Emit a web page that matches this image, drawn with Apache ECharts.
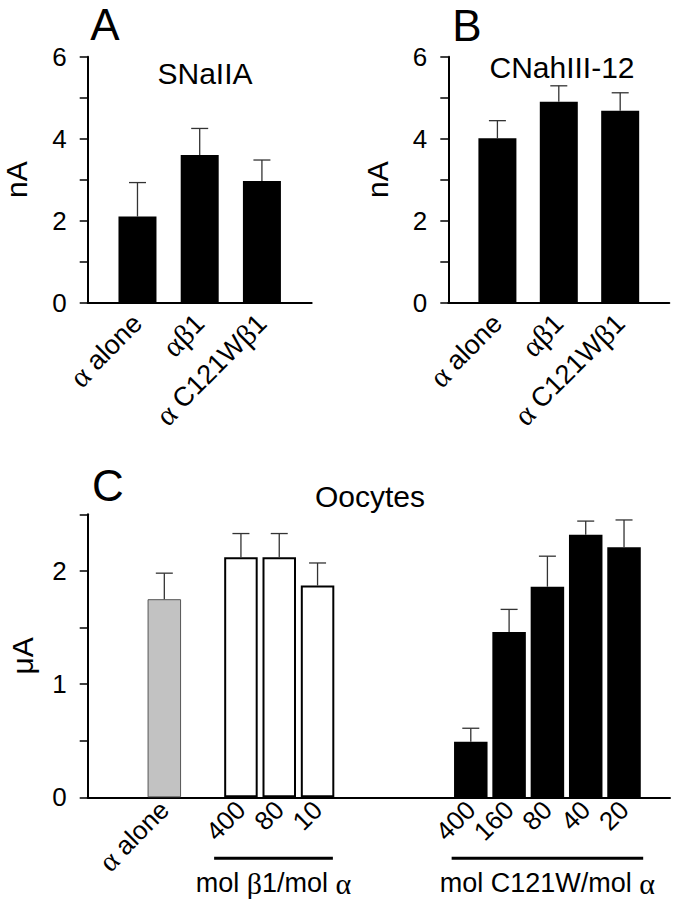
<!DOCTYPE html>
<html>
<head>
<meta charset="utf-8">
<script src="https://cdn.jsdelivr.net/npm/echarts@6/dist/echarts.min.js"></script>
<style>
  html, body { margin: 0; padding: 0; background: #fff; }
  #main { width: 678px; height: 899px; }
</style>
</head>
<body>
<div id="main"></div>
<script>
// panel A - SNaIIA
const catA = ['α alone', 'αβ1', 'α C121Wβ1'];
const meanA = [2.10, 3.60, 2.97];
const semA = [0.83, 0.65, 0.51];

// panel B - CNahIII-12
const catB = ['α alone', 'αβ1', 'α C121Wβ1'];
const meanB = [4.01, 4.90, 4.68];
const semB = [0.43, 0.39, 0.44];

// panel C - oocytes
const catC = ['α alone', '400', '80', '10', '400', '160', '80', '40', '20'];
const groupC = ['alone', 'beta', 'beta', 'beta', 'mut', 'mut', 'mut', 'mut', 'mut'];
const meanC = [1.75, 2.12, 2.12, 1.87, 0.49, 1.46, 1.86, 2.32, 2.21];
const semC = [0.23, 0.21, 0.21, 0.20, 0.12, 0.20, 0.27, 0.12, 0.24];
const groupLabelsC = ['mol β1/mol α', 'mol C121W/mol α'];

// where the bars sit on the (hidden) x scale
const slotAB = [0.8, 1.8, 2.8];
const slotC = [2, 4, 5, 6, 10, 11, 12, 13, 14];
const bracketC = [[3.3, 6.4], [9.5, 14.5]];

const FONT = 'Liberation Sans, Arial, sans-serif';
const SERIF = 'Liberation Serif, Times New Roman, serif';

const barStyleC = {
  alone: { color: '#c2c2c2', borderColor: '#555', borderWidth: 1 },
  beta: { color: '#fff', borderColor: '#000', borderWidth: 2 },
  mut: { color: '#000' }
};

// greek letters in symbol-like serif
function greek (s) {
  return s.replace(/([αβ])/g, '{g|$1}');
}

function labelFor (slots, cats) {
  return function (v) {
    for (let i = 0; i < slots.length; i++) {
      if (Math.abs(slots[i] - v) < 1e-6) return greek(cats[i]);
    }
    return '';
  };
}

function xAxisOf (gridIndex, max, interval, slots, cats, size, margin) {
  return {
    type: 'value',
    gridIndex: gridIndex,
    min: 0,
    max: max,
    interval: interval,
    splitLine: { show: false },
    axisTick: { show: false },
    axisLine: { lineStyle: { color: '#000', width: 2 } },
    axisLabel: {
      rotate: 45,
      margin: margin,
      color: '#000',
      fontFamily: FONT,
      fontSize: size,
      formatter: labelFor(slots, cats),
      rich: { g: { fontFamily: SERIF, fontSize: size + 3, color: '#000' } }
    }
  };
}

function yAxisOf (gridIndex, max, interval, name, labelStep, nameGap) {
  return {
    type: 'value',
    gridIndex: gridIndex,
    min: 0,
    max: max,
    interval: interval,
    name: name,
    nameLocation: 'middle',
    nameGap: nameGap,
    nameTextStyle: { color: '#000', fontFamily: FONT, fontSize: 30 },
    splitLine: { show: false },
    axisLine: { lineStyle: { color: '#000', width: 2 } },
    axisTick: { length: 8, lineStyle: { color: '#000', width: 1.5 } },
    axisLabel: {
      margin: 21,
      color: '#000',
      fontFamily: FONT,
      fontSize: 26,
      formatter: function (v) {
        const k = Math.round(v / labelStep * 1000) / 1000;
        return Number.isInteger(k) ? String(Math.round(v)) : '';
      }
    }
  };
}

function errorSeries (idx, slots, mean, sem) {
  return {
    type: 'custom',
    xAxisIndex: idx,
    yAxisIndex: idx,
    z: 5,
    encode: { x: 0, y: [1, 2] },
    data: slots.map((s, i) => [s, mean[i], mean[i] + sem[i]]),
    renderItem: function (params, api) {
      const p0 = api.coord([api.value(0), api.value(1)]);
      const p1 = api.coord([api.value(0), api.value(2)]);
      const st = { stroke: '#333', lineWidth: 1.3 };
      return {
        type: 'group',
        children: [
          { type: 'line', shape: { x1: p0[0], y1: p0[1], x2: p1[0], y2: p1[1] }, style: st },
          { type: 'line', shape: { x1: p1[0] - 8.5, y1: p1[1], x2: p1[0] + 8.5, y2: p1[1] }, style: st }
        ]
      };
    }
  };
}

function titleText (text, x, y, size, valign) {
  return {
    type: 'text',
    x: x,
    y: y,
    style: {
      text: text,
      fill: '#000',
      font: size + 'px ' + FONT,
      textAlign: 'center',
      textVerticalAlign: valign || 'middle'
    }
  };
}

let myChart = echarts.init(document.getElementById('main'), null, { renderer: 'svg' });

myChart.setOption({
  animation: false,
  backgroundColor: '#fff',
  grid: [
    { left: 87.7, top: 56.7, width: 224, height: 246, outerBoundsMode: 'none' },
    { left: 448.3, top: 56.7, width: 221, height: 246, outerBoundsMode: 'none' },
    { left: 87.7, top: 514.3, width: 582.3, height: 283, outerBoundsMode: 'none' }
  ],
  xAxis: [
    xAxisOf(0, 3.6, 0.2, slotAB, catA, 27, 16),
    xAxisOf(1, 3.6, 0.2, slotAB, catB, 27, 16),
    xAxisOf(2, 15.2, 1, slotC, catC, 26, 8)
  ],
  yAxis: [
    yAxisOf(0, 6, 1, 'nA', 2, 56),
    yAxisOf(1, 6, 1, 'nA', 2, 56),
    yAxisOf(2, 2.5, 0.5, 'μA', 1, 50)
  ],
  graphic: [
    titleText('A', 105, 2, 44, 'top'),
    titleText('B', 467, 3, 44, 'top'),
    titleText('C', 108, 463, 44, 'top'),
    titleText('SNaIIA', 205, 73, 30),
    titleText('CNahIII-12', 562, 67, 30),
    titleText('Oocytes', 370, 496, 30)
  ],
  series: [
    {
      type: 'bar',
      xAxisIndex: 0,
      yAxisIndex: 0,
      barWidth: 38,
      itemStyle: { color: '#000' },
      data: slotAB.map((s, i) => [s, meanA[i]])
    },
    errorSeries(0, slotAB, meanA, semA),
    {
      type: 'bar',
      xAxisIndex: 1,
      yAxisIndex: 1,
      barWidth: 38,
      itemStyle: { color: '#000' },
      data: slotAB.map((s, i) => [s, meanB[i]])
    },
    errorSeries(1, slotAB, meanB, semB),
    {
      type: 'bar',
      xAxisIndex: 2,
      yAxisIndex: 2,
      barWidth: 33.5,
      data: slotC.map((s, i) => ({ value: [s, meanC[i]], itemStyle: barStyleC[groupC[i]] }))
    },
    errorSeries(2, slotC, meanC, semC),
    // group brackets under panel C
    {
      type: 'custom',
      xAxisIndex: 2,
      yAxisIndex: 2,
      clip: false,
      encode: { x: [0, 1], y: 2 },
      data: bracketC.map(b => [b[0], b[1], 0]),
      renderItem: function (params, api) {
        const a = api.coord([api.value(0), 0]);
        const b = api.coord([api.value(1), 0]);
        const y = a[1] + 61;
        return {
          type: 'group',
          children: [
            { type: 'line', shape: { x1: a[0], y1: y, x2: b[0], y2: y }, style: { stroke: '#000', lineWidth: 3 } },
            {
              type: 'text',
              x: (a[0] + b[0]) / 2,
              y: y + 25,
              style: {
                text: greek(groupLabelsC[params.dataIndex]),
                fill: '#000',
                fontFamily: FONT,
                fontSize: 27,
                align: 'center',
                verticalAlign: 'middle',
                rich: { g: { fontFamily: SERIF, fontSize: 30, fill: '#000' } }
              }
            }
          ]
        };
      }
    }
  ]
});
</script>
</body>
</html>
